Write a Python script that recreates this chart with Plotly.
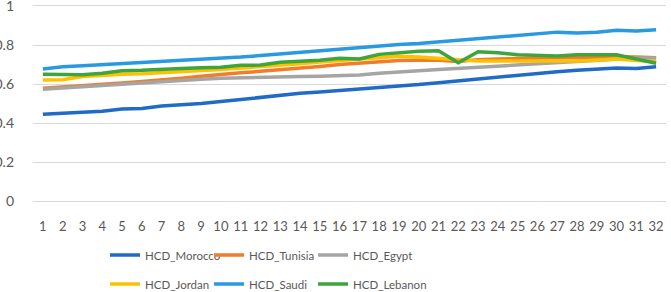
import plotly.graph_objects as go

periods = list(range(1, 33))

hcd_morocco = [0.445, 0.450, 0.454, 0.460, 0.472, 0.475, 0.487, 0.492, 0.500, 0.510,
               0.521, 0.532, 0.542, 0.552, 0.559, 0.566, 0.572, 0.580, 0.589, 0.597,
               0.607, 0.617, 0.626, 0.636, 0.646, 0.655, 0.663, 0.670, 0.676, 0.682,
               0.680, 0.689]
hcd_tunisia = [0.578, 0.584, 0.590, 0.597, 0.605, 0.613, 0.620, 0.630, 0.640, 0.650,
               0.658, 0.665, 0.672, 0.680, 0.690, 0.700, 0.708, 0.714, 0.720, 0.722,
               0.722, 0.716, 0.725, 0.728, 0.730, 0.733, 0.735, 0.737, 0.738, 0.740,
               0.738, 0.735]
hcd_egypt = [0.573, 0.580, 0.587, 0.593, 0.600, 0.607, 0.613, 0.620, 0.625, 0.630,
             0.633, 0.636, 0.638, 0.638, 0.640, 0.643, 0.646, 0.655, 0.663, 0.668,
             0.674, 0.680, 0.688, 0.694, 0.700, 0.706, 0.712, 0.718, 0.724, 0.730,
             0.733, 0.733]
hcd_jordan = [0.620, 0.622, 0.638, 0.645, 0.650, 0.653, 0.658, 0.662, 0.668, 0.675,
              0.682, 0.688, 0.697, 0.704, 0.713, 0.720, 0.724, 0.735, 0.742, 0.738,
              0.730, 0.723, 0.718, 0.718, 0.718, 0.716, 0.714, 0.718, 0.722, 0.728,
              0.720, 0.715]
hcd_saudi = [0.677, 0.688, 0.694, 0.699, 0.704, 0.709, 0.716, 0.721, 0.728, 0.731,
             0.738, 0.746, 0.754, 0.763, 0.772, 0.781, 0.788, 0.795, 0.803, 0.808,
             0.816, 0.827, 0.835, 0.843, 0.851, 0.860, 0.866, 0.862, 0.866, 0.876,
             0.872, 0.878]
hcd_lebanon = [0.650, 0.648, 0.648, 0.655, 0.668, 0.670, 0.677, 0.680, 0.683, 0.686,
               0.696, 0.697, 0.712, 0.716, 0.722, 0.732, 0.728, 0.752, 0.762, 0.768,
               0.770, 0.709, 0.765, 0.760, 0.750, 0.746, 0.744, 0.750, 0.750, 0.750,
               0.728, 0.706]

series = [
    ("HCD_Morocco", hcd_morocco, "#1f6bc6", "legend"),
    ("HCD_Tunisia", hcd_tunisia, "#f07d2c", "legend"),
    ("HCD_Egypt", hcd_egypt, "#a5a5a5", "legend"),
    ("HCD_Jordan", hcd_jordan, "#ffc000", "legend2"),
    ("HCD_Saudi", hcd_saudi, "#2a9ae0", "legend2"),
    ("HCD_Lebanon", hcd_lebanon, "#3ca63c", "legend2"),
]

y_ticks = [0, 0.2, 0.4, 0.6, 0.8, 1]
y_ticktext = ["0", "0.2", "0.4", "0.6", "0.8", "1"]

fig = go.Figure()
for name, vals, color, lg in series:
    fig.add_trace(go.Scatter(x=periods, y=vals, name=name, mode="lines",
                             line=dict(color=color, width=3.5), legend=lg))

# invisible trailing legend entries so the third column's text is not clipped
for lg in ("legend", "legend2"):
    fig.add_trace(go.Scatter(x=[None], y=[None], name=" ", mode="lines",
                             line=dict(color="rgba(0,0,0,0)", width=0),
                             legend=lg, hoverinfo="skip"))

font_family = "Lato, 'Open Sans', sans-serif"
legend_common = dict(orientation="h", xref="container", yref="container",
                     xanchor="left", yanchor="middle", entrywidth=59,
                     entrywidthmode="pixels", font=dict(size=11.5, color="#595959",
                                                        family=font_family),
                     bgcolor="rgba(0,0,0,0)", itemwidth=30, tracegroupgap=0)

fig.update_layout(
    width=671, height=292,
    margin=dict(l=33, r=5, t=6, b=91, autoexpand=False),
    paper_bgcolor="white", plot_bgcolor="white",
    font=dict(family=font_family, size=13, color="#595959"),
    showlegend=True,
    legend=dict(x=105 / 671, y=1 - 255 / 292, **legend_common),
    legend2=dict(x=105 / 671, y=1 - 284 / 292, **legend_common),
    xaxis=dict(range=[0.5, 32.5], tickmode="array", tickvals=periods,
               ticktext=[str(p) for p in periods], showgrid=False,
               zeroline=False, showline=True, mirror=True,
               linecolor="#d9d9d9", linewidth=1, ticks="", automargin=False,
               ticklabelstandoff=13,
               tickfont=dict(size=13, color="#595959")),
    yaxis=dict(range=[0, 1], tickmode="array", tickvals=y_ticks,
               ticktext=y_ticktext, showgrid=True, gridcolor="#d9d9d9",
               gridwidth=1, zeroline=True, zerolinecolor="#d9d9d9",
               zerolinewidth=1, showline=False, ticks="", automargin=False,
               ticklabelstandoff=18, ticklabeloverflow="allow",
               tickfont=dict(size=14, color="#595959")),
)

fig.write_html("out.html", config={"displayModeBar": False},
               post_script="document.body.style.margin='0';document.body.style.padding='0';")
